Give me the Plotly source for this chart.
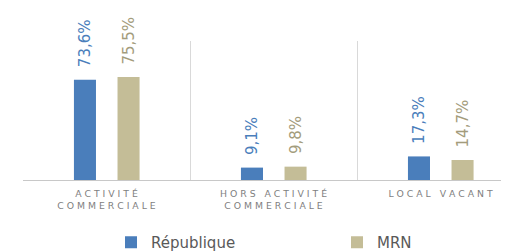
import plotly.graph_objects as go

categories = ["ACTIVITÉ COMMERCIALE", "HORS ACTIVITÉ COMMERCIALE", "LOCAL VACANT"]
tick_labels = ["A C T I V I T É<br>C O M M E R C I A L E",
               "H O R S\u00a0\u00a0 A C T I V I T É<br>C O M M E R C I A L E",
               "L O C A L\u00a0\u00a0 V A C A N T"]
republique = [73.6, 9.1, 17.3]
mrn = [75.5, 9.8, 14.7]

def fmt(v):
    return "\u00a0\u00a0" + f"{v:.1f}".replace(".", ",") + "%"

fig = go.Figure()
fig.add_trace(go.Bar(
    name="République", x=categories, y=republique,
    text=[fmt(v) for v in republique], textposition="outside",
    textangle=-90, constraintext="none", cliponaxis=False,
    textfont=dict(color="#4a7ebb", size=15, family="DejaVu Sans"),
    marker=dict(color="#4a7ebb", line=dict(width=0)),
    width=0.132, offset=-0.195, legend="legend",
))
fig.add_trace(go.Bar(
    name="MRN", x=categories, y=mrn,
    text=[fmt(v) for v in mrn], textposition="outside",
    textangle=-90, constraintext="none", cliponaxis=False,
    textfont=dict(color="#a39c7c", size=15, family="DejaVu Sans"),
    marker=dict(color="#c4bd97", line=dict(width=0)),
    width=0.132, offset=0.066, legend="legend2",
))

legend_font = dict(family="DejaVu Sans", size=15, color="#595959")
fig.update_layout(
    width=509, height=251,
    margin=dict(l=15, r=0, t=33, b=74),
    paper_bgcolor="white", plot_bgcolor="white",
    barmode="group",
    showlegend=True,
    legend=dict(orientation="h", x=(103 - 15) / 494, xanchor="left", y=-0.45, yanchor="middle",
                font=legend_font, itemwidth=30),
    legend2=dict(orientation="h", x=(329 - 15) / 494, xanchor="left", y=-0.45, yanchor="middle",
                 font=legend_font, itemwidth=30),
    xaxis=dict(
        type="category", range=[-0.5, 2.458],
        tickmode="array", tickvals=categories, ticktext=tick_labels,
        tickson="boundaries", ticks="", showgrid=True, gridcolor="#d9d9d9", gridwidth=1,
        showline=True, linecolor="#c8c8c8", linewidth=1,
        tickfont=dict(family="DejaVu Sans", size=9.3, color="#7f7f7f"),
        ticklabelstandoff=5,
        fixedrange=True, automargin=False,
    ),
    yaxis=dict(range=[0, 102], showgrid=False, showticklabels=False, zeroline=False,
               ticks="", fixedrange=True, automargin=False),
)

fig.write_html("out.html")
